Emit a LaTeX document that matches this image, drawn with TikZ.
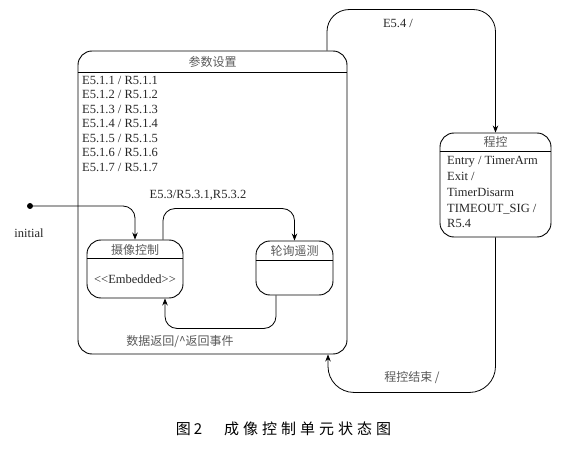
\documentclass[tikz,border=0pt]{standalone}
\usepackage{fontspec}
\setmainfont{Liberation Serif}
\newfontfamily\cjk{Noto Sans CJK SC}
\usetikzlibrary{arrows.meta}
\begin{document}
\begin{tikzpicture}[x=1pt,y=-1pt,
  statebox/.style={draw, line width=0.9pt, rounded corners=14pt, inner sep=0pt},
  tr/.style={draw, line width=0.8pt, -{Stealth[length=7pt,width=5.5pt]}, rounded corners=12pt},
  lat/.style={font=\fontsize{12.5}{14.5}\selectfont, inner sep=0pt, text=black!85},
  zh/.style={font=\cjk\fontsize{12}{14}\selectfont, inner sep=0pt, text=black!65},
  sep/.style={line width=0.8pt}]
\useasboundingbox (0,0) rectangle (566,452);

% outer composite state
\node[statebox, minimum width=269pt, minimum height=303pt] (big) at (212.5,202.5) {};
\draw[sep] ([yshift=-22pt]big.north west) -- ([yshift=-22pt]big.north east);
\node[zh] (bigt) at (212.5,62) {参数设置};
\node[lat, anchor=north west, align=left] (bigtxt) at (82,76)
  {E5.1.1 / R5.1.1\\E5.1.2 / R5.1.2\\E5.1.3 / R5.1.3\\E5.1.4 / R5.1.4\\E5.1.5 / R5.1.5\\E5.1.6 / R5.1.6\\E5.1.7 / R5.1.7};

% camera control
\node[statebox, minimum width=96pt, minimum height=58pt] (cam) at (135,269) {};
\draw[sep] ([yshift=-19pt]cam.north west) -- ([yshift=-19pt]cam.north east);
\node[zh] (camt) at (135,249.5) {摄像控制};
\node[lat] (camtxt) at (135,279) {<{}<Embedded>{}>};

% polling telemetry
\node[statebox, minimum width=77pt, minimum height=54pt] (poll) at (294.5,268) {};
\draw[sep] ([yshift=-20pt]poll.north west) -- ([yshift=-20pt]poll.north east);
\node[zh] (pollt) at (294.5,251) {轮询遥测};

% program control
\node[statebox, minimum width=111pt, minimum height=104pt] (prog) at (495.5,185) {};
\draw[sep] ([yshift=-19pt]prog.north west) -- ([yshift=-19pt]prog.north east);
\node[zh] (progt) at (495.5,142) {程控};
\node[lat, anchor=north west, align=left, font=\fontsize{12.5}{15.7}\selectfont] (progtxt) at (447,156.5)
  {Entry / TimerArm\\Exit /\\TimerDisarm\\TIMEOUT\_SIG /\\R5.4};

% initial
\node[circle, fill=black, inner sep=0pt, minimum size=6pt] (init) at (30,206) {};
\node[lat] (initl) at (29,233) {initial};
\draw[tr] (init) -| (cam.north);

% transitions
\draw[tr] ([xshift=28pt]cam.north) -- ++(0,-31) -| (poll.north);
\node[lat] (l53) at (198,195) {E5.3/R5.3.1,R5.3.2};

\draw[tr] ([xshift=-18.5pt]poll.south) -- ++(0,33) -| ([xshift=30pt]cam.south);
\node[zh] (lret) at (180,342) {数据返回/\^{}返回事件};

\draw[tr, rounded corners=22pt] ([xshift=114.5pt]big.north) -- ++(0,-41) -| (prog.north);
\node[lat] (l54) at (398,23) {E5.4 /};

\draw[tr, rounded corners=26pt] (prog.south) -- ++(0,155) -| ([xshift=115.5pt]big.south);
\node[zh] (lend) at (412,378) {程控结束 /};

% caption
\node[font=\cjk\fontsize{15}{18}\selectfont, inner sep=0pt] (cap) at (283.5,429)
  {图\hspace{3pt}2\hspace{22pt}成\hspace{4pt}像\hspace{4pt}控\hspace{4pt}制\hspace{4pt}单\hspace{4pt}元\hspace{4pt}状\hspace{4pt}态\hspace{4pt}图};
\end{tikzpicture}
\end{document}
